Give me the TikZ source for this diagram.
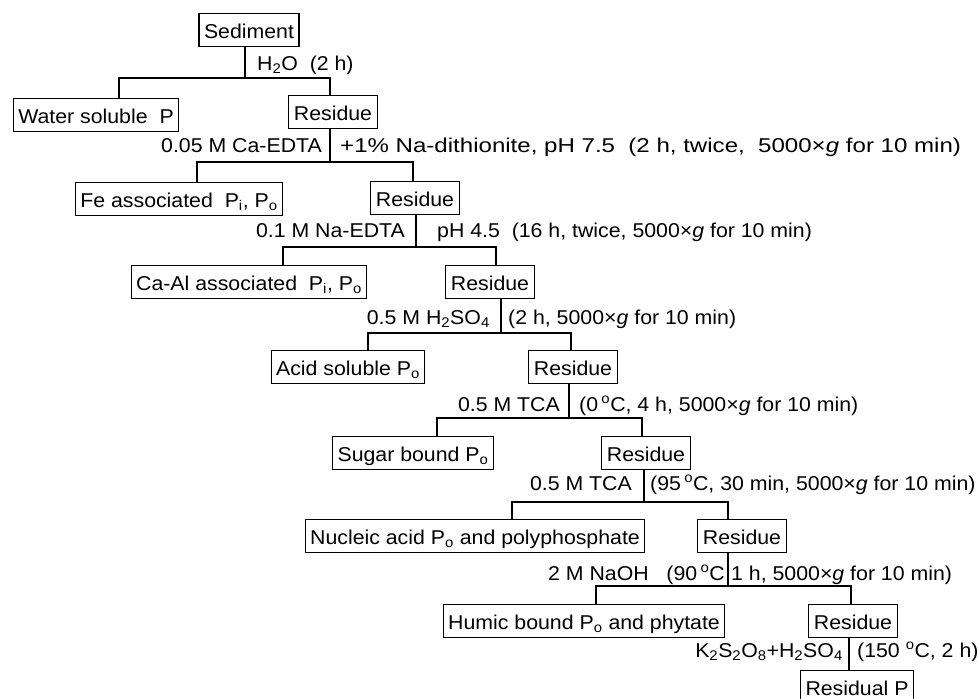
\documentclass[tikz,border=0pt]{standalone}
\usepackage{graphicx}
\usepackage{fontspec}
\setmainfont{Liberation Sans}[FakeStretch=1.065]
\tikzset{
  box/.style={draw, line width=1.1pt, inner xsep=5pt, inner ysep=4.5pt,
    text height=20pt, text depth=4pt, font=\fontsize{20}{22}\selectfont},
  lbl/.style={inner sep=0pt, font=\fontsize{20}{22}\selectfont},
  tie/.style={line width=1.1pt}
}
\begin{document}
\begin{tikzpicture}[x=1pt, y=-1pt]
    \useasboundingbox[fill=white] (0,0) rectangle (978,699);
    % boxes
    \node[box] (sed) at (249,30) {Sediment};
    \node[box] (water) at (96,115) {Water soluble\ \ P};
    \node[box] (res1) at (333,112) {Residue};
    \node[box] (fe) at (179,199) {Fe associated\ \ P\textsubscript{i}, P\textsubscript{o}};
    \node[box] (res2) at (415,198) {Residue};
    \node[box] (caal) at (249,282) {Ca-Al associated\ \ P\textsubscript{i}, P\textsubscript{o}};
    \node[box] (res3) at (490,282) {Residue};
    \node[box] (acid) at (348,367) {Acid soluble P\textsubscript{o}};
    \node[box] (res4) at (573,367) {Residue};
    \node[box] (sugar) at (413,453) {Sugar bound P\textsubscript{o}};
    \node[box] (res5) at (646,453) {Residue};
    \node[box] (nucl) at (475,536) {Nucleic acid P\textsubscript{o} and polyphosphate};
    \node[box] (res6) at (742,536) {Residue};
    \node[box] (humic) at (584,621) {Humic bound P\textsubscript{o} and phytate};
    \node[box] (res7) at (853,621) {Residue};
    \node[box] (resid) at (857,687) {Residual P};
    % conditions
    \node[lbl, anchor=base west] (cWat) at (257,70) {H\textsubscript{2}O\ \ (2 h)};
    \node[lbl, anchor=base east] (cFeL) at (322,152) {0.05 M Ca-EDTA};
    \node[lbl, anchor=base west] (cFeR) at (340,152) {\scalebox{1.13}[1]{+1\% Na-dithionite, pH 7.5\ \ (2 h, twice,\ \ 5000×\textit{g} for 10 min)}};
    \node[lbl, anchor=base east] (cCaL) at (405,237) {0.1 M Na-EDTA};
    \node[lbl, anchor=base west] (cCaR) at (437,237) {pH 4.5\ \ (16 h, twice, 5000×\textit{g} for 10 min)};
    \node[lbl, anchor=base east] (cAcL) at (490,324) {0.5 M H\textsubscript{2}SO\textsubscript{4}};
    \node[lbl, anchor=base west] (cAcR) at (508,324) {(2 h, 5000×\textit{g} for 10 min)};
    \node[lbl, anchor=base east] (cSuL) at (560,411) {0.5 M TCA};
    \node[lbl, anchor=base west] (cSuR) at (579,411) {(0\,\textsuperscript{o}C, 4 h, 5000×\textit{g} for 10 min)};
    \node[lbl, anchor=base east] (cNuL) at (632,490) {0.5 M TCA};
    \node[lbl, anchor=base west] (cNuR) at (650,490) {(95\,\textsuperscript{o}C, 30 min, 5000×\textit{g} for 10 min)};
    \node[lbl, anchor=base east] (cHuL) at (725,580) {2 M NaOH\ \ \ (90\,\textsuperscript{o}C};
    \node[lbl, anchor=base west] (cHuR) at (731,580) {1 h, 5000×\textit{g} for 10 min)};
    \node[lbl, anchor=base east] (cReL) at (843,657) {K\textsubscript{2}S\textsubscript{2}O\textsubscript{8}+H\textsubscript{2}SO\textsubscript{4}};
    \node[lbl, anchor=base west] (cReR) at (857,657) {(150 \textsuperscript{o}C, 2 h)};
    % forks
    \coordinate (fk1) at (245,78);
    \coordinate (fk2) at (330,162);
    \coordinate (fk3) at (416,247);
    \coordinate (fk4) at (501,333);
    \coordinate (fk5) at (569,418);
    \coordinate (fk6) at (644,502);
    \coordinate (fk7) at (728,586);
    \draw[tie] (sed.south -| fk1) -- (fk1);
    \draw[tie] ([xshift=23]water.north) |- (fk1) -| ([xshift=-3]res1.north);
    \draw[tie] (res1.south -| fk2) -- (fk2);
    \draw[tie] ([xshift=18]fe.north) |- (fk2) -| ([xshift=-2]res2.north);
    \draw[tie] (res2.south -| fk3) -- (fk3);
    \draw[tie] ([xshift=34]caal.north) |- (fk3) -| ([xshift=6]res3.north);
    \draw[tie] (res3.south -| fk4) -- (fk4);
    \draw[tie] ([xshift=20]acid.north) |- (fk4) -| ([xshift=-2]res4.north);
    \draw[tie] (res4.south -| fk5) -- (fk5);
    \draw[tie] ([xshift=24]sugar.north) |- (fk5) -| ([xshift=-4]res5.north);
    \draw[tie] (res5.south -| fk6) -- (fk6);
    \draw[tie] ([xshift=37]nucl.north) |- (fk6) -| ([xshift=-14]res6.north);
    \draw[tie] (res6.south -| fk7) -- (fk7);
    \draw[tie] ([xshift=12]humic.north) |- (fk7) -| ([xshift=-2]res7.north);
    \draw[tie] ([xshift=-4]res7.south) -- ([xshift=-4]res7.south |- resid.north);
\end{tikzpicture}
\end{document}
